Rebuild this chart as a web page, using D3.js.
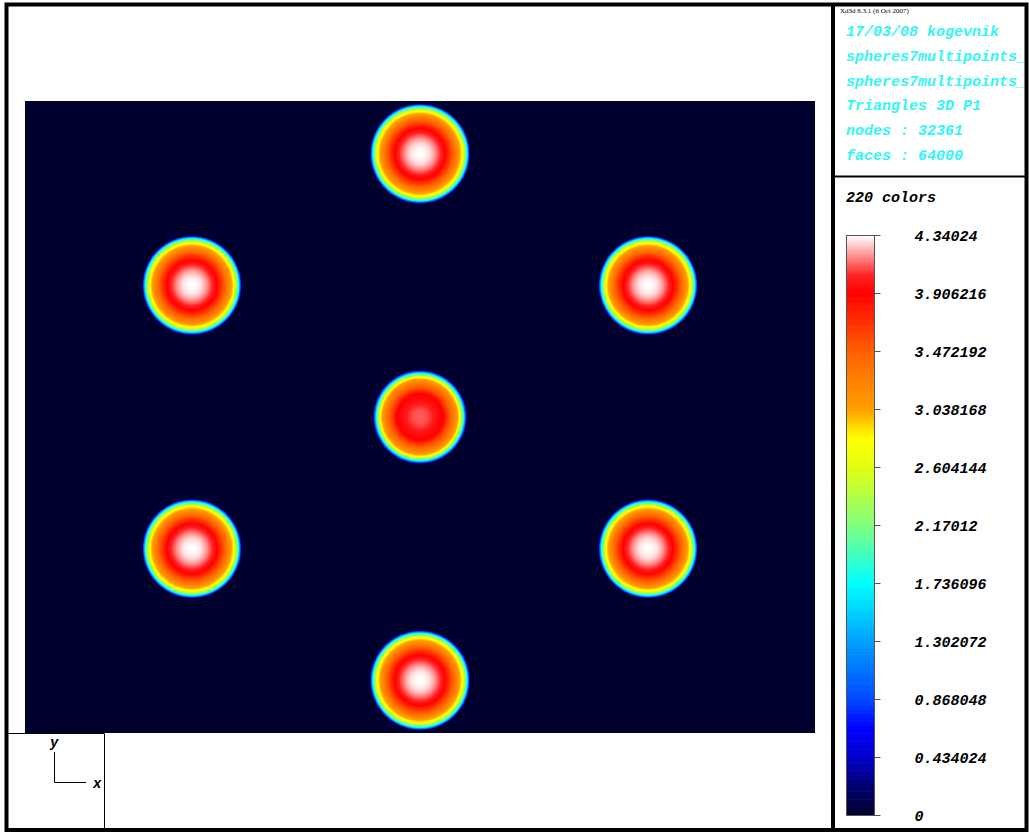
<!DOCTYPE html>
<html>
<head>
<meta charset="utf-8">
<script src="https://cdn.jsdelivr.net/npm/d3@7"></script>
<style>
  html, body { margin: 0; padding: 0; background: #ffffff; }
  svg { display: block; }
</style>
</head>
<body>
<svg id="chart" width="1029" height="834"></svg>
<script>
// ---------------- DATA ----------------
const sphereX = [0, -2.887, 2.887, 0, -2.887, 2.887, 0];
const sphereY = [3.333, 1.667, 1.667, 0, -1.667, -1.667, -3.333];
const sphereR = [0.63, 0.625, 0.625, 0.59, 0.625, 0.625, 0.63];
const sphereProfile = ["outer", "outer", "outer", "center", "outer", "outer", "outer"];

// radial profile (fraction of radius -> field value)
const profileR      = [0, 0.10, 0.20, 0.30, 0.40, 0.50, 0.60, 0.70, 0.80, 0.86, 0.91, 0.95, 0.975, 1.0];
const outerValues   = [4.34, 4.33, 4.29, 4.20, 4.07, 3.92, 3.66, 3.36, 3.05, 2.75, 2.25, 1.75, 1.05, 0.55];
const centerProfileR = [0, 0.15, 0.25, 0.35, 0.50, 0.60, 0.70, 0.80, 0.86, 0.90, 0.94, 0.97, 1.0];
const centerValues   = [4.12, 4.10, 4.05, 3.97, 3.90, 3.60, 3.35, 3.08, 2.75, 2.25, 1.75, 1.05, 0.55];

// colour map (fraction of max -> colour)
const cmapStops  = [0, 0.05, 0.10, 0.15, 0.20, 0.30, 0.40, 0.50, 0.60, 0.65, 0.70, 0.80, 0.90, 0.93, 1.0];
const cmapColors = ["#00002e", "#000070", "#0000c8", "#0000ff", "#0048ff", "#00a0ff", "#00ffff",
                    "#80ff80", "#e0ff10", "#ffff00", "#ffa000", "#ff6000", "#ff0000", "#ff2020", "#ffffff"];

const tickValues = [0, 0.434024, 0.868048, 1.302072, 1.736096, 2.17012, 2.604144, 3.038168, 3.472192, 3.906216, 4.34024];
const tickLabels = ["0", "0.434024", "0.868048", "1.302072", "1.736096", "2.17012", "2.604144", "3.038168", "3.472192", "3.906216", "4.34024"];

const headerSmall = "Xd3d 8.3.1 (6 Oct 2007)";
const headerLines = ["17/03/08 kogevnik", "spheres7multipoints_", "spheres7multipoints_", "Triangles 3D P1", "nodes : 32361", "faces : 64000"];
const nColors = 220;
const vMin = 0, vMax = 4.34024;

// ---------------- SETUP ----------------
const svg = d3.select("#chart");
const defs = svg.append("defs");

const cmap = d3.scaleLinear().domain(cmapStops).range(cmapColors).interpolate(d3.interpolateRgb).clamp(true);
const colorOf = v => cmap((v - vMin) / (vMax - vMin));

// plot area
const plot = { x0: 25, x1: 815, y0: 101, y1: 733 };
const xScale = d3.scaleLinear().domain([-5, 5]).range([plot.x0, plot.x1]);
const yScale = d3.scaleLinear().domain([-4, 4]).range([plot.y1, plot.y0]);

// background of the plot (value 0)
svg.append("rect")
  .attr("x", xScale(-5)).attr("y", yScale(4))
  .attr("width", xScale(5) - xScale(-5)).attr("height", yScale(-4) - yScale(4))
  .attr("fill", colorOf(0));

// radial gradients
function makeGradient(id, rs, vs) {
  const prof = d3.scaleLinear().domain(rs).range(vs);
  const g = defs.append("radialGradient").attr("id", id)
    .attr("cx", "50%").attr("cy", "50%").attr("r", "50%");
  const N = 200;
  const offs = d3.range(N + 1).map(i => i / N);
  g.selectAll("stop").data(offs).join("stop")
    .attr("offset", d => d)
    .attr("stop-color", d => colorOf(prof(d)));
}
makeGradient("grad-outer", profileR, outerValues);
makeGradient("grad-center", centerProfileR, centerValues);

const spheres = sphereX.map((x, i) => ({ x, y: sphereY[i], r: sphereR[i], p: sphereProfile[i] }));
svg.append("g").selectAll("circle").data(spheres).join("circle")
  .attr("cx", d => xScale(d.x))
  .attr("cy", d => yScale(d.y))
  .attr("r", d => xScale(d.r) - xScale(0))
  .attr("fill", d => d.p === "outer" ? "url(#grad-outer)" : "url(#grad-center)");

// ---------------- FRAMES ----------------
const frame = svg.append("g").attr("fill", "none").attr("stroke", "#000");
frame.append("rect").attr("x", 6.5).attr("y", 4.5).attr("width", 1020).attr("height", 825.5).attr("stroke-width", 4);
frame.append("line").attr("x1", 833).attr("x2", 833).attr("y1", 4).attr("y2", 830).attr("stroke-width", 4);
frame.append("line").attr("x1", 833).attr("x2", 1027).attr("y1", 176.5).attr("y2", 176.5).attr("stroke-width", 2);
// lower-left axis box
frame.append("line").attr("x1", 8).attr("x2", 104.5).attr("y1", 733.5).attr("y2", 733.5).attr("stroke-width", 1);
frame.append("line").attr("x1", 104.5).attr("x2", 104.5).attr("y1", 733.5).attr("y2", 829).attr("stroke-width", 1);

// axis indicator
const ax = svg.append("g");
ax.append("path").attr("d", "M54.5,752 V782.5 H86").attr("fill", "none").attr("stroke", "#000").attr("stroke-width", 1);
ax.append("text").attr("x", 50).attr("y", 747).text("y")
  .attr("font-family", "Liberation Mono, monospace").attr("font-weight", "bold").attr("font-style", "italic").attr("font-size", 14);
ax.append("text").attr("x", 93).attr("y", 788).text("x")
  .attr("font-family", "Liberation Mono, monospace").attr("font-weight", "bold").attr("font-style", "italic").attr("font-size", 14);

// ---------------- HEADER ----------------
const hdr = svg.append("g");
svg.append("clipPath").attr("id", "hdrclip").append("rect").attr("x", 836).attr("y", 6).attr("width", 188).attr("height", 168);
hdr.attr("clip-path", "url(#hdrclip)");
hdr.append("text").attr("x", 840).attr("y", 13).text(headerSmall)
  .attr("font-family", "Liberation Serif, serif").attr("font-size", 7).attr("fill", "#000");
hdr.selectAll("text.h").data(headerLines).join("text").attr("class", "h")
  .attr("x", 846).attr("y", (d, i) => 36 + i * 24.8)
  .attr("font-family", "Liberation Mono, monospace").attr("font-weight", "bold").attr("font-style", "italic")
  .attr("font-size", 15).attr("fill", "#33f5f5")
  .text(d => d);

// ---------------- COLORBAR ----------------
const cb = { x0: 846, x1: 875, y0: 235, y1: 815 };
const cbScale = d3.scaleLinear().domain([vMin, vMax]).range([cb.y1, cb.y0]);
svg.append("text").attr("x", 846).attr("y", 202).text(nColors + " colors")
  .attr("font-family", "Liberation Mono, monospace").attr("font-weight", "bold").attr("font-style", "italic")
  .attr("font-size", 15).attr("fill", "#000");

const step = (vMax - vMin) / nColors;
const bands = d3.range(nColors).map(i => vMin + i * step);
svg.append("g").selectAll("rect").data(bands).join("rect")
  .attr("x", cb.x0).attr("width", cb.x1 - cb.x0)
  .attr("y", d => cbScale(d + step))
  .attr("height", d => cbScale(d) - cbScale(d + step) + 0.6)
  .attr("fill", d => colorOf(d + step / 2));
svg.append("rect").attr("x", cb.x0 + 0.5).attr("y", cb.y0 + 0.5).attr("width", cb.x1 - cb.x0 - 1).attr("height", cb.y1 - cb.y0)
  .attr("fill", "none").attr("stroke", "#555").attr("stroke-width", 1);

const axis = d3.axisRight(cbScale).tickValues(tickValues).tickSize(6)
  .tickFormat((d, i) => tickLabels[i]);
const axG = svg.append("g").attr("transform", `translate(${cb.x1 - 0.5},0)`).call(axis);
axG.select(".domain").remove();
axG.selectAll(".tick line").attr("stroke", "#555");
axG.selectAll(".tick text")
  .attr("x", 40).attr("dy", "0.35em")
  .attr("font-family", "Liberation Mono, monospace").attr("font-weight", "bold").attr("font-style", "italic")
  .attr("font-size", 15).attr("fill", "#000");
</script>
</body>
</html>
